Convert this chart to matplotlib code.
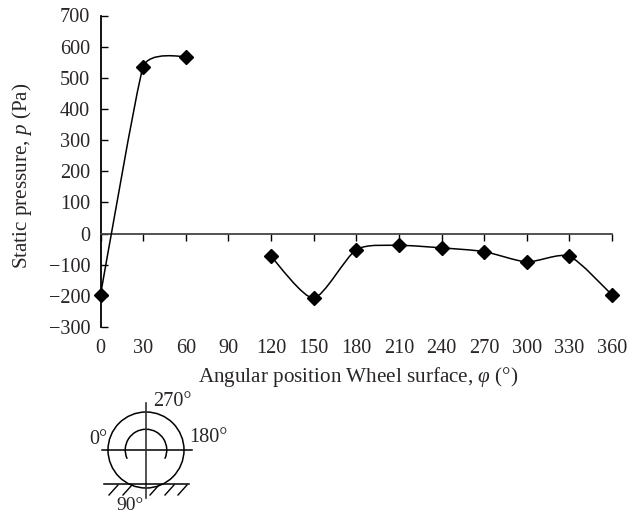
import matplotlib
matplotlib.use("Agg")
import matplotlib.pyplot as plt
import numpy as np
from matplotlib.path import Path
from matplotlib.patches import PathPatch, Circle, Arc

plt.rcParams['font.family'] = ['Liberation Serif', 'DejaVu Serif']
plt.rcParams['mathtext.fontset'] = 'custom'
plt.rcParams['mathtext.it'] = 'Liberation Serif:italic'
plt.rcParams['mathtext.rm'] = 'Liberation Serif'

# values
angle_a = [0, 30, 60]
pressure_a = [-197, 535, 568]
angle_b = [120, 150, 180, 210, 240, 270, 300, 330, 360]
pressure_b = [-73, -207, -52, -38, -46, -58, -91, -73, -197]

x_ticks = list(range(0, 361, 30))
y_ticks = list(range(-300, 701, 100))
y_labels = [str(v).replace('-', '\u2212') for v in y_ticks]

ink = '#2a2627'


def smooth_path(x, y, tension):
    # spreadsheet style smoothed line, bezier through every point
    x = np.array(x, dtype=float)
    y = np.array(y, dtype=float)
    verts = [(x[0], y[0])]
    codes = [Path.MOVETO]
    n = len(x)
    for i in range(n - 1):
        x0, y0 = (x[i - 1], y[i - 1]) if i > 0 else (x[i], y[i])
        x3, y3 = (x[i + 2], y[i + 2]) if i + 2 < n else (x[i + 1], y[i + 1])
        verts.append((x[i] + (x[i + 1] - x0) * tension, y[i] + (y[i + 1] - y0) * tension))
        verts.append((x[i + 1] - (x3 - x[i]) * tension, y[i + 1] - (y3 - y[i]) * tension))
        verts.append((x[i + 1], y[i + 1]))
        codes += [Path.CURVE4] * 3
    return Path(verts, codes)


W, H = 638, 513
fig = plt.figure(figsize=(W / 100, H / 100), dpi=100)

left, right, top, bottom = 100.5, 612, 15.5, 327
ax = fig.add_axes([left / W, 1 - bottom / H, (right - left) / W, (bottom - top) / H])

for xs, ys, tension in [(angle_a, pressure_a, 0.07), (angle_b, pressure_b, 0.12)]:
    ax.add_patch(PathPatch(smooth_path(xs, ys, tension), fill=False, edgecolor='black', lw=1.1,
                           clip_on=False, zorder=3))
    ax.plot(xs, ys, linestyle='none', marker='D', color='black', ms=7.4, clip_on=False, zorder=4)

ax.set_xlim(0, 360)
ax.set_ylim(-300, 700)
ax.spines['top'].set_visible(False)
ax.spines['right'].set_visible(False)
ax.spines['bottom'].set_position(('data', 0))
ax.spines['bottom'].set_linewidth(1.3)
ax.spines['bottom'].set_color('#444444')
ax.spines['left'].set_linewidth(1.3)
ax.spines['left'].set_color('black')

ax.set_xticks(x_ticks)
ax.set_yticks(y_ticks)
ax.set_yticklabels(y_labels)
ax.tick_params(axis='x', direction='out', length=5.2, width=1, pad=70.5, labelsize=14.6, labelcolor=ink)
ax.tick_params(axis='y', direction='in', length=5.2, width=1, pad=7.5, labelsize=14.6, labelcolor=ink)

# wheel sketch and the axis titles, in pixel coordinates
px = fig.add_axes([0, 0, 1, 1])
px.set_xlim(0, W)
px.set_ylim(H, 0)
px.axis('off')
px.patch.set_alpha(0)

px.text(198, 377, 'Angular position Wheel surface, $\\mathit{\\varphi}$ (\u00b0)', fontsize=15.2, color=ink,
        ha='left', va='center')
px.text(22, 176, 'Static pressure, $\\mathit{p}$ (Pa)', fontsize=15.2, color=ink, rotation=90,
        ha='center', va='center')

cx, cy = 146, 450
px.add_patch(Circle((cx, cy), 38, fill=False, ec='black', lw=1.1))
px.add_patch(Arc((cx, cy), 41.5, 41.5, theta1=155, theta2=385, ec='black', lw=1.1))
px.plot([102, 192], [cy, cy], color='black', lw=1.1)
px.plot([cx, cx], [403, 498], color='#333333', lw=1.2)
px.plot([104, 189], [484, 484], color='black', lw=1.1)
for x0 in [109, 123, 150, 165, 178]:
    px.plot([x0, x0 + 9], [495, 485], color='black', lw=1)

px.text(153, 402, '270\u00b0', fontsize=14.6, color=ink, ha='left', va='center')
px.text(189, 438, '180\u00b0', fontsize=14.6, color=ink, ha='left', va='center')
px.text(107, 440, '0\u00b0', fontsize=14.6, color=ink, ha='right', va='center')
px.text(116, 510.5, '90\u00b0', fontsize=14, color=ink, ha='left', va='baseline')

fig.savefig('out.png', dpi=100)
